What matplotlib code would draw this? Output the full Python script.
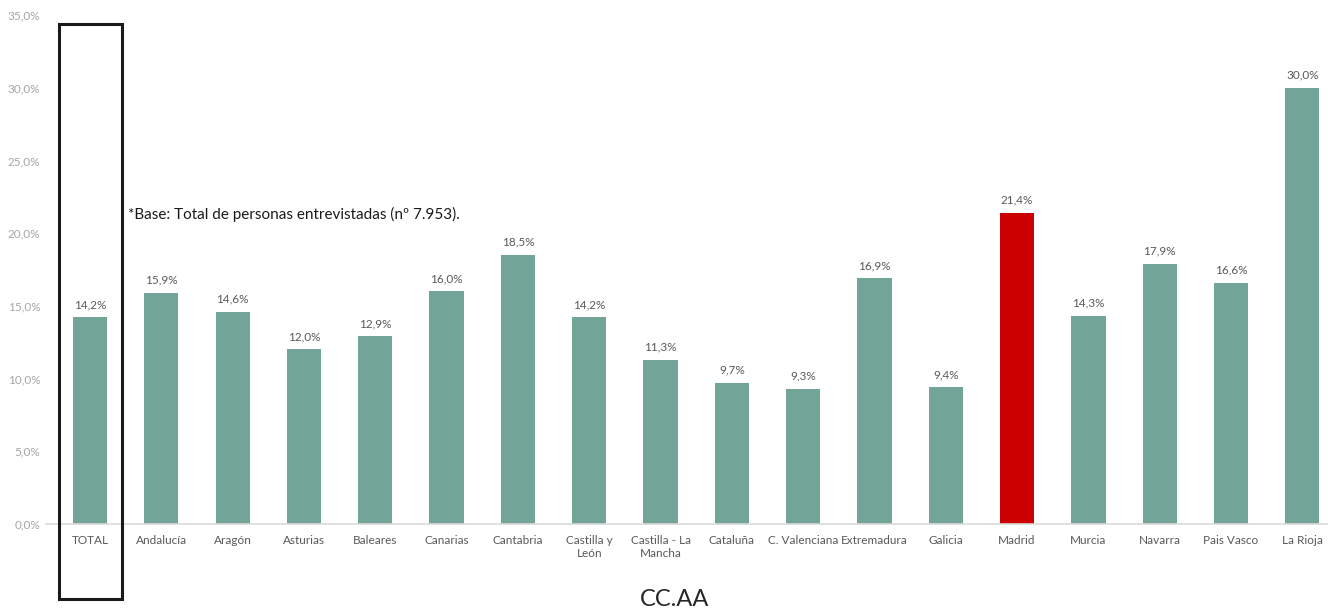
import matplotlib.pyplot as plt
from matplotlib.patches import Rectangle
from matplotlib.ticker import FuncFormatter

plt.rcParams['font.family'] = ['Lato', 'DejaVu Sans']

# --- Data ---
regions = ["TOTAL", "Andalucía", "Aragón", "Asturias", "Baleares", "Canarias",
           "Cantabria", "Castilla y\nLeón", "Castilla - La\nMancha", "Cataluña",
           "C. Valenciana", "Extremadura", "Galicia", "Madrid", "Murcia",
           "Navarra", "Pais Vasco", "La Rioja"]
values = [14.2, 15.9, 14.6, 12.0, 12.9, 16.0, 18.5, 14.2, 11.3, 9.7,
          9.3, 16.9, 9.4, 21.4, 14.3, 17.9, 16.6, 30.0]
highlight = "Madrid"
yticks = [0, 5, 10, 15, 20, 25, 30, 35]

teal = "#72A598"
red = "#CC0000"
colors = [red if r == highlight else teal for r in regions]

fig = plt.figure(figsize=(13.28, 6.12), dpi=100)
ax = fig.add_axes([46/1328, 88/612, 1 - 46/1328, (524-15)/612])

x = range(len(regions))
bars = ax.bar(x, values, width=0.48, color=colors, zorder=2)

for xi, v in zip(x, values):
    ax.text(xi, v + 0.5, f"{v:.1f}%".replace(".", ","), ha="center", va="bottom",
            fontsize=8.5, color="#595959")

ax.set_xlim(-0.617, 17.36)
ax.set_ylim(0, 35)
ax.set_yticks(yticks)
ax.yaxis.set_major_formatter(FuncFormatter(lambda v, p: f"{v:.1f}%".replace(".", ",")))
ax.set_xticks(list(x))
ax.set_xticklabels(regions)
ax.tick_params(axis="x", length=0, pad=8, labelsize=8.5, labelcolor="#595959")
ax.tick_params(axis="y", length=0, pad=4, labelsize=8.5, labelcolor="#A6A6A6")

for s in ["top", "right", "left"]:
    ax.spines[s].set_visible(False)
ax.spines["bottom"].set_color("#D9D9D9")
ax.spines["bottom"].set_linewidth(1.2)

ax.set_xlabel("CC.AA", fontsize=17, color="#262626")
ax.xaxis.set_label_coords(0.49, -0.128)

# frame around TOTAL
box = Rectangle((-0.435, -5.16), 0.884, 39.56, fill=False, edgecolor="#1a1a1a",
                linewidth=2.2, clip_on=False, zorder=3)
ax.add_patch(box)

ax.text(0.53, 21.3, "*Base: Total de personas entrevistadas (nº 7.953).",
        fontsize=11, color="#1a1a1a", ha="left", va="center")

fig.savefig("out.png", dpi=100)
